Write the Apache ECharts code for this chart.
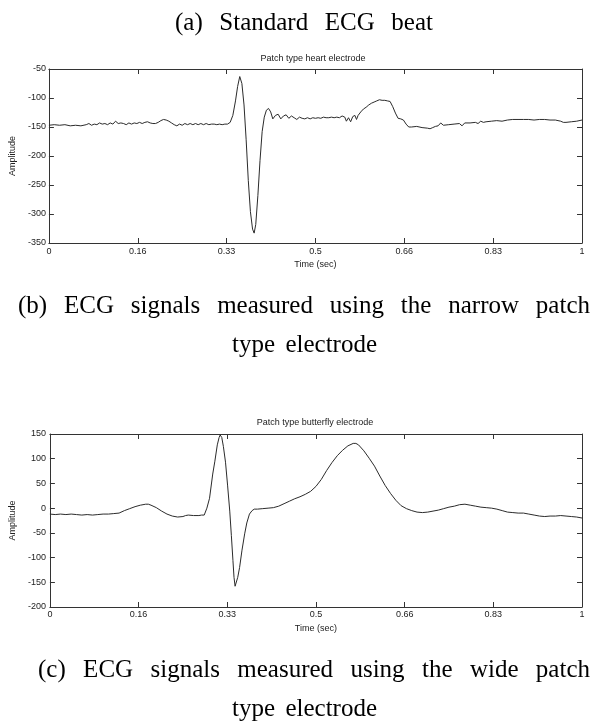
<!DOCTYPE html>
<html>
<head>
<meta charset="utf-8">
<script src="https://cdn.jsdelivr.net/npm/echarts@6/dist/echarts.min.js"></script>
<style>
html,body{margin:0;padding:0;background:#ffffff;}
#chart{width:593px;height:727px;}
</style>
</head>
<body>
<div id="chart"></div>
<script>
// ---------- data ----------
const xTickLabels = ['0', '0.16', '0.33', '0.5', '0.66', '0.83', '1'];

const heartTitle = 'Patch type heart electrode';
const butterflyTitle = 'Patch type butterfly electrode';
const xAxisName = 'Time (sec)';
const yAxisName = 'Amplitude';

const captionA = '(a) Standard ECG beat';
const captionB1 = '(b) ECG signals measured using the narrow patch';
const captionB2 = 'type electrode';
const captionC1 = '(c) ECG signals measured using the wide patch';
const captionC2 = 'type electrode';

const heartTime = [0.000,0.010,0.020,0.030,0.040,0.050,0.060,0.070,0.075,0.080,0.085,0.090,0.095,0.100,0.105,0.110,0.115,0.120,0.125,0.130,0.135,0.140,0.145,0.150,0.155,0.160,0.165,0.170,0.175,0.180,0.185,0.190,0.195,0.200,0.205,0.210,0.215,0.220,0.225,0.230,0.235,0.240,0.245,0.250,0.255,0.260,0.265,0.270,0.275,0.280,0.285,0.290,0.295,0.300,0.305,0.310,0.315,0.320,0.325,0.330,0.335,0.340,0.345,0.350,0.354,0.358,0.362,0.366,0.370,0.374,0.378,0.382,0.385,0.388,0.392,0.396,0.400,0.404,0.408,0.412,0.416,0.420,0.425,0.430,0.435,0.440,0.445,0.450,0.455,0.460,0.465,0.470,0.475,0.480,0.485,0.490,0.495,0.500,0.505,0.510,0.515,0.520,0.525,0.530,0.535,0.540,0.545,0.550,0.555,0.558,0.562,0.566,0.570,0.574,0.577,0.580,0.585,0.590,0.595,0.600,0.605,0.610,0.615,0.620,0.625,0.630,0.635,0.640,0.645,0.650,0.655,0.660,0.665,0.670,0.675,0.680,0.690,0.700,0.710,0.715,0.720,0.725,0.730,0.735,0.740,0.750,0.760,0.770,0.775,0.780,0.790,0.800,0.805,0.810,0.815,0.820,0.830,0.840,0.850,0.860,0.870,0.880,0.890,0.900,0.910,0.920,0.930,0.940,0.950,0.960,0.965,0.970,0.980,0.990,1.000];
const heartAmp = [-147,-146,-147,-146,-148,-147,-148,-146,-144,-147,-145,-146,-143,-145,-144,-146,-143,-145,-140,-144,-143,-144,-146,-143,-145,-143,-144,-142,-144,-142,-141,-143,-144,-144,-142,-139,-137,-138,-140,-143,-146,-148,-145,-147,-144,-146,-144,-146,-144,-146,-144,-146,-144,-146,-145,-145,-146,-145,-146,-145,-145,-142,-130,-105,-80,-63,-75,-112,-172,-242,-296,-326,-333,-318,-268,-208,-158,-133,-121,-118,-124,-136,-130,-128,-136,-131,-129,-135,-131,-134,-137,-133,-135,-136,-134,-136,-134,-135,-134,-135,-133,-134,-134,-133,-134,-133,-134,-131,-133,-140,-134,-141,-132,-130,-137,-130,-124,-119,-116,-112,-109,-107,-105,-103,-104,-104,-105,-106,-115,-126,-135,-136,-138,-145,-150,-150,-149,-151,-152,-153,-151,-149,-148,-143,-147,-146,-145,-144,-148,-143,-143,-142,-144,-140,-142,-141,-140,-139,-140,-138,-137,-137,-137,-137,-138,-137,-137,-138,-138,-140,-142,-142,-141,-140,-138,-137];

const butterflyTime = [0.000,0.010,0.020,0.030,0.040,0.050,0.060,0.070,0.080,0.090,0.100,0.110,0.120,0.130,0.140,0.150,0.160,0.170,0.180,0.185,0.190,0.200,0.210,0.220,0.230,0.240,0.250,0.255,0.260,0.270,0.280,0.285,0.290,0.295,0.300,0.306,0.310,0.3146,0.318,0.320,0.323,0.326,0.330,0.334,0.338,0.341,0.344,0.346,0.348,0.350,0.353,0.3565,0.361,0.366,0.370,0.375,0.380,0.384,0.390,0.400,0.410,0.420,0.430,0.440,0.450,0.460,0.470,0.480,0.490,0.500,0.510,0.520,0.530,0.540,0.550,0.560,0.570,0.575,0.580,0.590,0.600,0.610,0.620,0.630,0.640,0.650,0.660,0.670,0.680,0.690,0.700,0.710,0.720,0.730,0.740,0.750,0.760,0.770,0.780,0.790,0.800,0.810,0.820,0.830,0.840,0.850,0.860,0.870,0.880,0.890,0.900,0.910,0.920,0.930,0.940,0.950,0.960,0.970,0.980,0.990,1.000];
const butterflyAmp = [-12,-13,-12,-13,-12,-13,-14,-13,-14,-13,-12,-12,-11,-10,-5,-1,3,6,8,8,6,1,-6,-12,-16,-18,-17,-15,-14,-15,-15,-14,-14,0,20,69,95,128,143,148,143,125,93,45,-6,-55,-106,-140,-158,-155,-140,-120,-85,-52,-30,-12,-5,-2,-2,-1,0,1,4,9,14,19,23,28,34,44,58,76,92,106,117,126,131,131,128,116,101,85,65,46,30,16,5,-1,-5,-8,-9,-8,-6,-4,-1,2,4,7,8,6,4,2,1,0,-2,-5,-8,-9,-10,-10,-12,-14,-16,-17,-16,-16,-15,-16,-17,-18,-20];

const heartY = {min: -350, max: -50, interval: 50};
const butterflyY = {min: -200, max: 150, interval: 50};

// ---------- helpers ----------
const zip = (xs, ys) => xs.map((x, i) => [x, ys[i]]);
const AXIS_COLOR = '#333';
const TEXT_COLOR = '#222';
const SMALL_FONT = 'Liberation Sans, Arial, sans-serif';
const CAP_SIZE = 25;
const CAP_FAMILY = '"Liberation Serif", "Times New Roman", serif';

const measureCtx = document.createElement('canvas').getContext('2d');
function justified(text, left, right, baseline) {
  const words = text.split(' ');
  measureCtx.font = CAP_SIZE + 'px ' + CAP_FAMILY;
  const widths = words.map(w => measureCtx.measureText(w).width);
  const total = widths.reduce((a, b) => a + b, 0);
  const gap = words.length > 1 ? (right - left - total) / (words.length - 1) : 0;
  let x = left;
  return words.map((w, i) => {
    const el = {
      type: 'text', x: x, y: baseline - CAP_SIZE * 0.3375, silent: true,
      style: {text: w, fontSize: CAP_SIZE, fontFamily: CAP_FAMILY, fill: '#000',
              align: 'left', verticalAlign: 'middle'}
    };
    x += widths[i] + gap;
    return el;
  });
}

const lineStyleAxis = {show: true, onZero: false, lineStyle: {color: AXIS_COLOR, width: 1}};
const tickStyle = {show: true, inside: true, length: 5, lineStyle: {color: AXIS_COLOR}};

function bottomX(gridIndex, labelMargin, nameGap) {
  return {
    type: 'value', gridIndex: gridIndex, position: 'bottom',
    min: 0, max: 1, interval: 1 / 6,
    axisLine: lineStyleAxis, axisTick: tickStyle,
    axisLabel: {show: true, margin: labelMargin, fontSize: 9, color: TEXT_COLOR, fontFamily: SMALL_FONT,
                formatter: v => xTickLabels[Math.round(v * 6)]},
    splitLine: {show: false},
    name: xAxisName, nameLocation: 'middle', nameGap: nameGap,
    nameTextStyle: {fontSize: 9, color: TEXT_COLOR, fontFamily: SMALL_FONT}
  };
}
function topX(gridIndex) {
  return {
    type: 'value', gridIndex: gridIndex, position: 'top',
    min: 0, max: 1, interval: 1 / 6,
    axisLine: lineStyleAxis, axisTick: tickStyle,
    axisLabel: {show: false}, splitLine: {show: false}
  };
}
function leftY(gridIndex, range, labelMargin) {
  return {
    type: 'value', gridIndex: gridIndex, position: 'left',
    min: range.min, max: range.max, interval: range.interval,
    axisLine: lineStyleAxis, axisTick: tickStyle,
    axisLabel: {show: true, margin: labelMargin, fontSize: 9, color: TEXT_COLOR, fontFamily: SMALL_FONT},
    splitLine: {show: false},
    name: yAxisName, nameLocation: 'middle', nameGap: 27,
    nameTextStyle: {fontSize: 9, color: TEXT_COLOR, fontFamily: SMALL_FONT}
  };
}
function rightY(gridIndex, range) {
  return {
    type: 'value', gridIndex: gridIndex, position: 'right',
    min: range.min, max: range.max, interval: range.interval,
    axisLine: lineStyleAxis, axisTick: tickStyle,
    axisLabel: {show: false}, splitLine: {show: false}
  };
}
function plotTitle(text, cx, cy) {
  return {type: 'text', x: cx, y: cy, silent: true,
          style: {text: text, fontSize: 9, fontFamily: SMALL_FONT, fill: TEXT_COLOR,
                  align: 'center', verticalAlign: 'middle'}};
}

const chart = echarts.init(document.getElementById('chart'), null, {renderer: 'canvas'});
const option = {
  animation: false,
  backgroundColor: '#ffffff',
  grid: [
    {left: 45, top: 69, width: 537, height: 174, containLabel: false},
    {left: 48, top: 434, width: 534, height: 173, containLabel: false}
  ],
  xAxis: [bottomX(0, 4.5, 17.5), topX(0), bottomX(1, 3.5, 17), topX(1)],
  yAxis: [leftY(0, heartY, 3), rightY(0, heartY), leftY(1, butterflyY, 4), rightY(1, butterflyY)],
  series: [
    {type: 'line', xAxisIndex: 0, yAxisIndex: 0, data: zip(heartTime, heartAmp),
     showSymbol: false, symbol: 'none', lineStyle: {color: '#2b2b2b', width: 1}},
    {type: 'line', xAxisIndex: 2, yAxisIndex: 2, data: zip(butterflyTime, butterflyAmp),
     showSymbol: false, symbol: 'none', lineStyle: {color: '#2b2b2b', width: 1}}
  ],
  graphic: [].concat(
    justified(captionA, 175, 433, 32),
    justified(captionB1, 18, 590, 315),
    justified(captionB2, 232, 377, 354),
    justified(captionC1, 38, 590, 679),
    justified(captionC2, 232, 377, 718),
    [plotTitle(heartTitle, 313, 59), plotTitle(butterflyTitle, 315, 423)]
  )
};
chart.setOption(option);
</script>
</body>
</html>
